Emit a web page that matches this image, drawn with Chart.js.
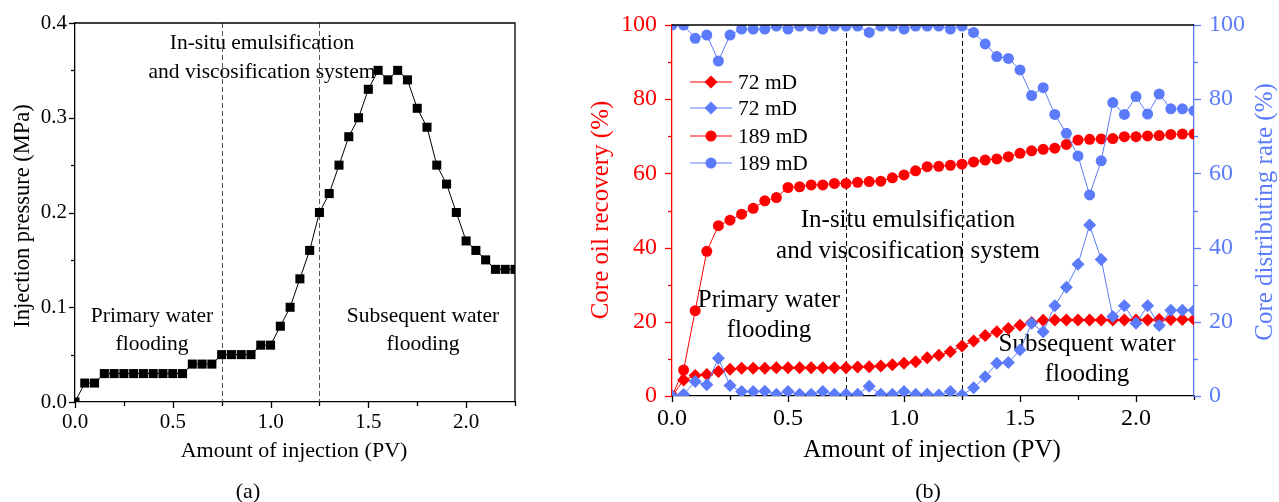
<!DOCTYPE html>
<html>
<head>
<meta charset="utf-8">
<script src="https://cdn.jsdelivr.net/npm/chart.js@4.4.1/dist/chart.umd.min.js"></script>
<style>
  html, body { margin: 0; padding: 0; background: #fff; }
  #wrap { position: relative; width: 1279px; height: 502px; }
  #boxA { position: absolute; left: 0; top: 0; width: 560px; height: 502px; }
  #boxB { position: absolute; left: 580px; top: 0; width: 699px; height: 502px; }
</style>
</head>
<body>
<div id="wrap">
  <div id="boxA"><canvas id="chartA" width="560" height="502"></canvas></div>
  <div id="boxB"><canvas id="chartB" width="699" height="502"></canvas></div>
</div>
<script>
// injection amount (PV), same sampling for both panels
var injectionPV = [0, 0.05, 0.1, 0.15, 0.2, 0.25, 0.3, 0.35, 0.4, 0.45, 0.5, 0.55, 0.6, 0.65, 0.7, 0.75,
  0.8, 0.85, 0.9, 0.95, 1.0, 1.05, 1.1, 1.15, 1.2, 1.25, 1.3, 1.35, 1.4, 1.45, 1.5, 1.55, 1.6, 1.65,
  1.7, 1.75, 1.8, 1.85, 1.9, 1.95, 2.0, 2.05, 2.1, 2.15, 2.2, 2.25];

// (a) injection pressure, MPa
var pressure = [0, 0.02, 0.02, 0.03, 0.03, 0.03, 0.03, 0.03, 0.03, 0.03, 0.03, 0.03, 0.04, 0.04, 0.04, 0.05,
  0.05, 0.05, 0.05, 0.06, 0.06, 0.08, 0.10, 0.13, 0.16, 0.20, 0.22, 0.25, 0.28, 0.30, 0.33, 0.35, 0.34, 0.35,
  0.34, 0.31, 0.29, 0.25, 0.23, 0.20, 0.17, 0.16, 0.15, 0.14, 0.14, 0.14];

// (b) core oil recovery, %
var recovery72 = [0, 4.3, 5.5, 5.8, 6.6, 7.2, 7.5, 7.5, 7.5, 7.6, 7.6, 7.6, 7.6, 7.6, 7.6, 7.6,
  7.8, 7.9, 8.1, 8.4, 8.8, 9.2, 10.3, 11.0, 11.9, 13.5, 14.8, 16.3, 17.3, 18.2, 19.1, 19.8, 20.4, 20.5,
  20.5, 20.5, 20.5, 20.5, 20.5, 20.5, 20.5, 20.5, 20.6, 20.6, 20.6, 20.6];
var recovery189 = [0, 7.0, 23.0, 39.0, 45.9, 47.4, 49.0, 50.6, 52.6, 53.5, 56.2, 56.4, 56.9, 56.9, 57.3, 57.3,
  57.6, 57.8, 57.9, 58.8, 59.6, 60.7, 61.8, 61.9, 62.2, 62.5, 63.1, 63.6, 63.9, 64.5, 65.4, 66.1, 66.5, 66.8,
  67.8, 69.0, 69.2, 69.3, 69.4, 69.9, 69.9, 70.1, 70.2, 70.5, 70.6, 70.6];

// (b) core distributing rate, %
var distrib72 = [0, 0.4, 3.9, 3.0, 10.2, 2.8, 1.2, 1.2, 1.3, 0.5, 1.2, 0.5, 0.5, 1.2, 0.5, 0.5,
  0.5, 2.6, 0.5, 0.5, 1.2, 0.5, 0.5, 0.3, 1.2, 0.3, 2.2, 5.2, 8.8, 9.0, 12.4, 19.6, 17.3, 24.3,
  29.3, 35.5, 46.1, 36.8, 21.4, 24.3, 19.6, 24.3, 19.0, 23.1, 23.1, 23.1];
var distrib189 = [100, 100, 96.4, 97.3, 90.3, 97.3, 98.9, 98.9, 98.9, 99.7, 98.9, 99.7, 99.7, 98.9, 99.7, 99.7,
  99.7, 98.0, 99.7, 99.7, 98.9, 99.7, 99.7, 99.7, 98.9, 99.7, 98.0, 94.9, 91.5, 91.0, 87.9, 81.0, 83.1, 75.9,
  70.8, 64.7, 54.2, 63.4, 79.1, 75.9, 80.7, 76.0, 81.4, 77.4, 77.4, 76.9];

var SERIF = 'Liberation Serif';
var RED = '#ff0000';
var BLUE = '#5b7bfa';

Chart.defaults.font.family = SERIF;

function pts(ys) {
  return injectionPV.map(function (x, i) { return { x: x, y: ys[i] }; });
}

function isStep(v, step) {
  return Math.abs(v / step - Math.round(v / step)) < 1e-6;
}

function drawTicks(ctx, scale, side, color, majorStep, majorLen, minorLen) {
  ctx.save();
  ctx.strokeStyle = color;
  ctx.lineWidth = 1.3;
  scale.ticks.forEach(function (t) {
    var len = isStep(t.value, majorStep) ? majorLen : minorLen;
    var p = Math.round(scale.getPixelForValue(t.value)) + 0.5;
    ctx.beginPath();
    if (side === 'bottom') { ctx.moveTo(p, scale.top); ctx.lineTo(p, scale.top + len); }
    else if (side === 'left') { ctx.moveTo(scale.right, p); ctx.lineTo(scale.right - len, p); }
    else { ctx.moveTo(scale.left, p); ctx.lineTo(scale.left + len, p); }
    ctx.stroke();
  });
  ctx.restore();
}

function label(ctx, str, x, y, size, color, rot) {
  ctx.save();
  ctx.font = size + 'px ' + SERIF;
  ctx.fillStyle = color;
  ctx.textAlign = 'center';
  ctx.textBaseline = 'alphabetic';
  ctx.translate(x, y);
  if (rot) ctx.rotate(rot);
  ctx.fillText(str, 0, 0);
  ctx.restore();
}

function vDash(ctx, chart, value, color) {
  var a = chart.chartArea;
  var px = Math.round(chart.scales.x.getPixelForValue(value)) + 0.5;
  ctx.save();
  ctx.strokeStyle = color;
  ctx.lineWidth = 1;
  ctx.setLineDash([5, 3]);
  ctx.beginPath();
  ctx.moveTo(px, a.top);
  ctx.lineTo(px, a.bottom);
  ctx.stroke();
  ctx.restore();
}

function marker(ctx, style, x, y, r, color) {
  ctx.save();
  ctx.fillStyle = color;
  ctx.beginPath();
  if (style === 'circle') {
    ctx.arc(x, y, r, 0, Math.PI * 2);
  } else {
    ctx.moveTo(x, y - r); ctx.lineTo(x + r, y); ctx.lineTo(x, y + r); ctx.lineTo(x - r, y);
    ctx.closePath();
  }
  ctx.fill();
  ctx.restore();
}

// panel (a) extras: dashed phase lines, notes, box, ticks, titles
var extrasA = {
  id: 'extrasA',
  beforeDatasetsDraw: function (chart) {
    var ctx = chart.ctx;
    label(ctx, 'In-situ emulsification', 262, 49, 21.5, '#000');
    label(ctx, 'and viscosification system', 262, 78, 21.5, '#000');
    label(ctx, 'Primary water', 152, 322, 21.5, '#000');
    label(ctx, 'flooding', 152, 350, 21.5, '#000');
    label(ctx, 'Subsequent water', 423, 322, 21.5, '#000');
    label(ctx, 'flooding', 423, 350, 21.5, '#000');
    vDash(ctx, chart, 0.75, '#555');
    vDash(ctx, chart, 1.25, '#555');
  },
  afterDraw: function (chart) {
    var ctx = chart.ctx, a = chart.chartArea;
    ctx.save();
    ctx.strokeStyle = '#000';
    ctx.lineWidth = 1.3;
    ctx.beginPath();
    ctx.moveTo(a.left, a.top); ctx.lineTo(a.right, a.top); ctx.lineTo(a.right, a.bottom);
    ctx.stroke();
    ctx.restore();
    drawTicks(ctx, chart.scales.x, 'bottom', '#000', 0.5, 6, 4);
    drawTicks(ctx, chart.scales.y, 'left', '#000', 0.1, 6, 4);
    label(ctx, 'Amount of injection (PV)', 294, 457, 22, '#000');
    label(ctx, 'Injection pressure (MPa)', 29, 216, 22.5, '#000', -Math.PI / 2);
    label(ctx, '(a)', 248, 498, 22, '#000');
  }
};

new Chart(document.getElementById('chartA'), {
  type: 'line',
  data: {
    datasets: [{
      label: 'Injection pressure',
      data: pts(pressure),
      borderColor: '#000',
      backgroundColor: '#000',
      borderWidth: 1,
      pointStyle: 'rect',
      pointRadius: 6.4,
      pointBorderWidth: 0,
      tension: 0
    }]
  },
  options: {
    responsive: false,
    animation: false,
    events: [],
    layout: { padding: { left: 0, top: 23, right: 45, bottom: 0 } },
    plugins: { legend: { display: false }, tooltip: { enabled: false } },
    scales: {
      x: {
        type: 'linear', min: 0, max: 2.25,
        afterFit: function (s) { s.height = 100; },
        grid: { drawOnChartArea: false, tickLength: 6, tickColor: 'transparent' },
        border: { color: '#000', width: 1.3 },
        ticks: {
          stepSize: 0.25, autoSkip: false, maxRotation: 0, padding: 2, color: '#000',
          font: { family: SERIF, size: 21 },
          callback: function (v) { return isStep(v, 0.5) ? v.toFixed(1) : ''; }
        }
      },
      y: {
        min: 0, max: 0.4,
        afterFit: function (s) { s.width = 75; },
        grid: { drawOnChartArea: false, tickLength: 6, tickColor: 'transparent' },
        border: { color: '#000', width: 1.3 },
        ticks: {
          stepSize: 0.05, autoSkip: false, padding: 2, color: '#000',
          font: { family: SERIF, size: 21 },
          callback: function (v) { return isStep(v, 0.1) ? v.toFixed(1) : ''; }
        }
      }
    }
  },
  plugins: [extrasA]
});

// panel (b) extras
var legendRows = [89, 115, 143, 170];
var extrasB = {
  id: 'extrasB',
  beforeDatasetsDraw: function (chart) {
    var ctx = chart.ctx;
    label(ctx, 'In-situ emulsification', 328, 227, 25, '#000');
    label(ctx, 'and viscosification system', 328, 258, 25, '#000');
    label(ctx, 'Primary water', 189, 307, 25, '#000');
    label(ctx, 'flooding', 189, 337, 25, '#000');
    label(ctx, 'Subsequent water', 507, 351, 25, '#000');
    label(ctx, 'flooding', 507, 381, 25, '#000');
    vDash(ctx, chart, 0.75, '#000');
    vDash(ctx, chart, 1.25, '#000');
  },
  afterDraw: function (chart) {
    var ctx = chart.ctx, a = chart.chartArea;
    ctx.save();
    ctx.strokeStyle = '#000';
    ctx.lineWidth = 1.3;
    ctx.beginPath();
    ctx.moveTo(a.left, a.top); ctx.lineTo(a.right, a.top);
    ctx.stroke();
    ctx.restore();
    drawTicks(ctx, chart.scales.x, 'bottom', '#000', 0.5, 6, 4);
    drawTicks(ctx, chart.scales.y, 'left', RED, 20, 7, 4);
    drawTicks(ctx, chart.scales.y1, 'right', BLUE, 20, 7, 4);
    label(ctx, 'Amount of injection (PV)', 352, 457, 25, '#000');
    label(ctx, 'Core oil recovery (%)', 28, 210, 25, RED, -Math.PI / 2);
    label(ctx, 'Core distributing rate (%)', 692, 212, 25, BLUE, -Math.PI / 2);
    label(ctx, '(b)', 348, 498, 22, '#000');

    // legend, upper left inside the plot
    chart.data.datasets.forEach(function (ds, i) {
      var y = legendRows[i] - 7;
      ctx.save();
      ctx.strokeStyle = ds.borderColor;
      ctx.lineWidth = 1;
      ctx.beginPath();
      ctx.moveTo(110, y); ctx.lineTo(152, y);
      ctx.stroke();
      ctx.restore();
      marker(ctx, ds.pointStyle, 131, y, ds.pointStyle === 'circle' ? 5.5 : 6.5, ds.backgroundColor);
      ctx.save();
      ctx.font = '21.5px ' + SERIF;
      ctx.fillStyle = '#000';
      ctx.textAlign = 'left';
      ctx.fillText(ds.label, 158, legendRows[i]);
      ctx.restore();
    });
  }
};

function series(lbl, ys, axis, color, style, order) {
  return {
    label: lbl,
    data: pts(ys),
    yAxisID: axis,
    borderColor: color,
    backgroundColor: color,
    borderWidth: 1,
    pointStyle: style,
    pointRadius: style === 'circle' ? 5.5 : 6.5,
    pointBorderWidth: 0,
    tension: 0,
    order: order
  };
}

new Chart(document.getElementById('chartB'), {
  type: 'line',
  data: {
    datasets: [
      series('72 mD', recovery72, 'y', RED, 'rectRot', 1),
      series('72 mD', distrib72, 'y1', BLUE, 'rectRot', 0),
      series('189 mD', recovery189, 'y', RED, 'circle', 1),
      series('189 mD', distrib189, 'y1', BLUE, 'circle', 0)
    ]
  },
  options: {
    responsive: false,
    animation: false,
    events: [],
    layout: { padding: { left: 0, top: 25, right: 0, bottom: 0 } },
    plugins: { legend: { display: false }, tooltip: { enabled: false } },
    scales: {
      x: {
        type: 'linear', min: 0, max: 2.25,
        afterFit: function (s) { s.height = 106; },
        grid: { drawOnChartArea: false, tickLength: 6, tickColor: 'transparent' },
        border: { color: '#000', width: 1.3 },
        ticks: {
          stepSize: 0.25, autoSkip: false, maxRotation: 0, padding: 2, color: '#000',
          font: { family: SERIF, size: 24 },
          callback: function (v) { return isStep(v, 0.5) ? v.toFixed(1) : ''; }
        }
      },
      y: {
        position: 'left', min: 0, max: 100,
        afterFit: function (s) { s.width = 92; },
        grid: { drawOnChartArea: false, tickLength: 7, tickColor: 'transparent' },
        border: { color: RED, width: 1.3 },
        ticks: {
          stepSize: 10, autoSkip: false, padding: 8, color: RED,
          font: { family: SERIF, size: 24 },
          callback: function (v) { return isStep(v, 20) ? String(v) : ''; }
        }
      },
      y1: {
        position: 'right', min: 0, max: 100,
        afterFit: function (s) { s.width = 85; },
        grid: { drawOnChartArea: false, tickLength: 7, tickColor: 'transparent' },
        border: { color: BLUE, width: 1.3 },
        ticks: {
          stepSize: 10, autoSkip: false, padding: 8, color: BLUE,
          font: { family: SERIF, size: 24 },
          callback: function (v) { return isStep(v, 20) ? String(v) : ''; }
        }
      }
    }
  },
  plugins: [extrasB]
});
</script>
</body>
</html>
